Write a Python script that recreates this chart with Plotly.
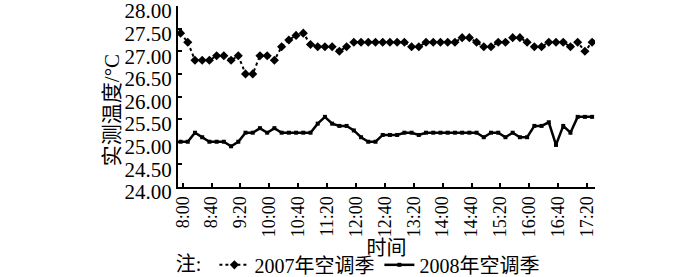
import plotly.graph_objects as go

times = ["8:00", "8:10", "8:20", "8:30", "8:40", "8:50", "9:00", "9:10", "9:20", "9:30",
         "9:40", "9:50", "10:00", "10:10", "10:20", "10:30", "10:40", "10:50", "11:00", "11:10",
         "11:20", "11:30", "11:40", "11:50", "12:00", "12:10", "12:20", "12:30", "12:40", "12:50",
         "13:00", "13:10", "13:20", "13:30", "13:40", "13:50", "14:00", "14:10", "14:20", "14:30",
         "14:40", "14:50", "15:00", "15:10", "15:20", "15:30", "15:40", "15:50", "16:00", "16:10",
         "16:20", "16:30", "16:40", "16:50", "17:00", "17:10", "17:20", "17:30"]

t2007 = [27.4, 27.2, 26.8, 26.8, 26.8, 26.9, 26.9, 26.8, 26.9, 26.5,
         26.5, 26.9, 26.9, 26.8, 27.1, 27.25, 27.35, 27.4, 27.15, 27.1,
         27.1, 27.1, 27.0, 27.1, 27.2, 27.2, 27.2, 27.2, 27.2, 27.2,
         27.2, 27.2, 27.1, 27.1, 27.2, 27.2, 27.2, 27.2, 27.2, 27.3,
         27.3, 27.2, 27.1, 27.1, 27.2, 27.2, 27.3, 27.3, 27.2, 27.1,
         27.1, 27.2, 27.2, 27.2, 27.1, 27.2, 27.0, 27.2]

t2008 = [25.0, 25.0, 25.2, 25.1, 25.0, 25.0, 25.0, 24.9, 25.0, 25.2,
         25.2, 25.3, 25.2, 25.3, 25.2, 25.2, 25.2, 25.2, 25.2, 25.4,
         25.55, 25.4, 25.35, 25.35, 25.25, 25.1, 25.0, 25.0, 25.15, 25.15,
         25.15, 25.2, 25.2, 25.15, 25.2, 25.2, 25.2, 25.2, 25.2, 25.2,
         25.2, 25.2, 25.1, 25.2, 25.2, 25.1, 25.2, 25.1, 25.1, 25.35,
         25.35, 25.43, 24.93, 25.35, 25.2, 25.55, 25.55, 25.55]

tick_labels = ["8:00", "8:40", "9:20", "10:00", "10:40", "11:20", "12:00", "12:40",
               "13:20", "14:00", "14:40", "15:20", "16:00", "16:40", "17:20"]
y_ticks = [24.0, 24.5, 25.0, 25.5, 26.0, 26.5, 27.0, 27.5, 28.0]

series_names = ["2007年空调季", "2008年空调季"]
y_title = "实测温度/°C"
x_title = "时间"
legend_title = "注: "

assert len(times) == len(t2007) == len(t2008)

xpos = list(range(len(times)))
tick_pos = [times.index(t) + 0.3 for t in tick_labels]

FONT = "Liberation Serif, Times New Roman, Noto Sans CJK SC, serif"

fig = go.Figure()
fig.add_trace(go.Scatter(
    x=xpos, y=t2007, name=series_names[0], mode="lines+markers",
    line=dict(color="black", width=2, dash="dot"),
    marker=dict(symbol="diamond", size=7, color="black"),
))
fig.add_trace(go.Scatter(
    x=xpos, y=t2008, name=series_names[1], mode="lines+markers",
    line=dict(color="black", width=2.5),
    marker=dict(symbol="square", size=4, color="black"),
))

fig.update_layout(
    width=700, height=277,
    margin=dict(l=178, r=105, t=6, b=90, autoexpand=False),
    paper_bgcolor="white", plot_bgcolor="white",
    font=dict(family=FONT, size=20, color="black"),
    showlegend=True,
    legend=dict(
        orientation="h", x=-0.01, xanchor="left", y=-0.43, yanchor="middle",
        yref="paper",
        title=dict(text=legend_title, side="left", font=dict(size=20)),
        font=dict(size=20), itemwidth=30, tracegroupgap=0,
        bgcolor="rgba(0,0,0,0)",
    ),
    xaxis=dict(
        range=[-0.35, 57.4], showgrid=False, zeroline=False,
        showline=True, linecolor="black", linewidth=2,
        tickmode="array", tickvals=tick_pos, ticktext=tick_labels,
        tickangle=-90, ticks="inside", ticklen=4, tickwidth=2, tickcolor="black",
        tickfont=dict(size=18), ticklabelstandoff=0,
        title=dict(text=x_title, font=dict(size=20), standoff=4),
    ),
    yaxis=dict(
        range=[24, 28], showgrid=False, zeroline=False,
        showline=True, linecolor="black", linewidth=2,
        tickmode="array", tickvals=y_ticks, ticktext=[f"{v:.2f}" for v in y_ticks],
        ticks="inside", ticklen=4, tickwidth=2, tickcolor="black",
        tickfont=dict(size=21), ticklabelstandoff=0, ticklabelshift=5,
        ticklabeloverflow="allow",
    ),
    annotations=[dict(
        text=y_title, textangle=-90, xref="paper", yref="paper",
        x=-0.158, y=0.425, xanchor="center", yanchor="middle",
        showarrow=False, font=dict(size=21),
    )],
)

fig.write_html("out.html")
